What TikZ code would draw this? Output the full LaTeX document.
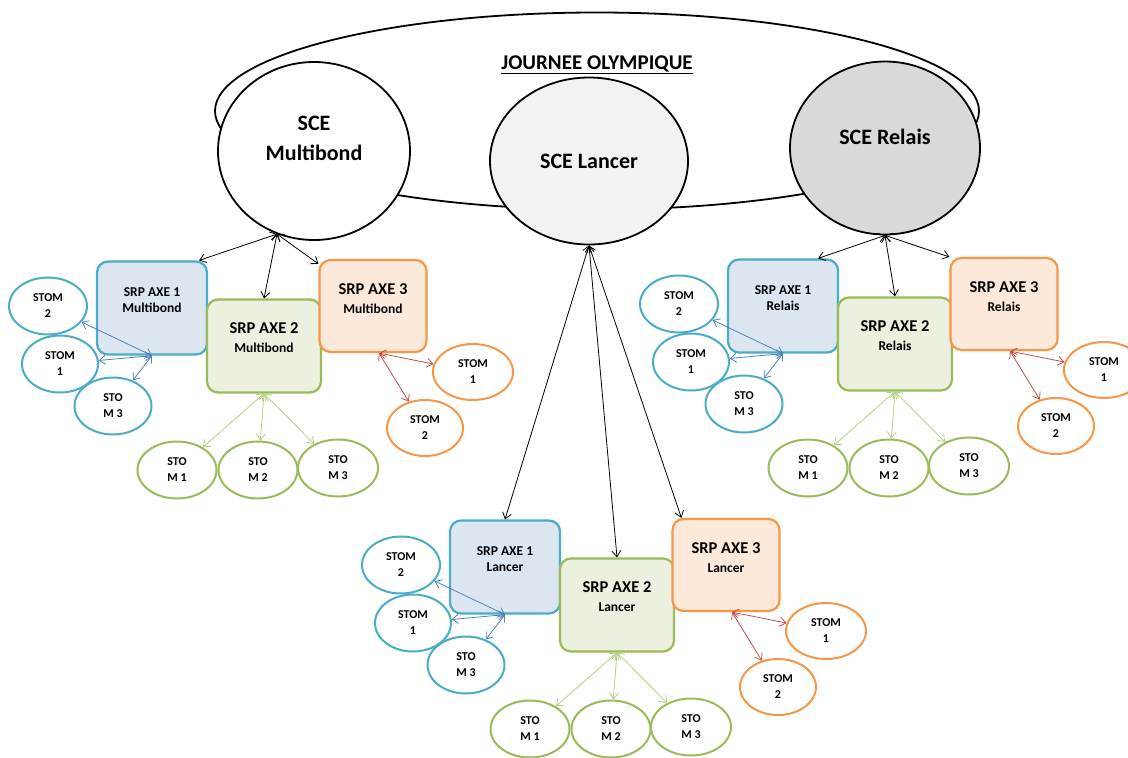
\documentclass[tikz,border=0pt]{standalone}
\usepackage{fontspec}
\setmainfont{Carlito}
\usetikzlibrary{shapes.geometric,arrows.meta}
\definecolor{bleuBord}{HTML}{4BACC6}
\definecolor{bleuFond}{HTML}{DCE6F1}
\definecolor{vertBord}{HTML}{9BBB59}
\definecolor{vertFond}{HTML}{EBF1DE}
\definecolor{orangeBord}{HTML}{F79646}
\definecolor{orangeFond}{HTML}{FDE9D9}
\definecolor{flecheBleu}{HTML}{4F81BD}
\definecolor{flecheVert}{HTML}{B3CF85}
\definecolor{flecheRouge}{HTML}{C0504D}
\begin{document}
\begin{tikzpicture}[
            x=1pt, y=-1pt,
            every node/.style={align=center, font=\bfseries},
            scetexte/.style={font=\bfseries\fontsize{22}{30}\selectfont},
            sce/.style={ellipse, draw, line width=1.8pt, inner sep=0pt, scetexte},
            srp/.style={draw, rounded corners=11pt, line width=2.2pt, inner sep=0pt},
            srpbleu/.style={srp, draw=bleuBord, fill=bleuFond},
            srpvert/.style={srp, draw=vertBord, fill=vertFond},
            srporange/.style={srp, draw=orangeBord, fill=orangeFond},
            stom/.style={ellipse, draw, line width=2pt, fill=white, inner sep=0pt,
                minimum width=78pt, minimum height=57pt,
                font=\bfseries\fontsize{12}{16}\selectfont},
            lien/.style={<->, >={Straight Barb[length=6pt,width=9pt]}, line width=0.8pt},
            petit/.style={font=\bfseries\fontsize{13.5}{16}\selectfont},
            grand/.style={font=\bfseries\fontsize{16.5}{19}\selectfont}
            ]
            \useasboundingbox (0,0) rectangle (1128,758);
            % journee et les trois SCE
            \node[ellipse, draw, line width=1.8pt, minimum width=764pt, minimum height=197pt] (jo) at (597,111) {};
            \node[font=\bfseries\fontsize{21}{25}\selectfont] (titre) at (597,65) {\underline{JOURNEE OLYMPIQUE}};
            \node[sce, fill=white, minimum width=192pt, minimum height=178pt,
                label={[scetexte, yshift=13pt]center:{SCE\\Multibond}}] (mb) at (314,151) {};
            \node[sce, fill=black!5, minimum width=198pt, minimum height=167pt] (ln) at (589,161) {SCE Lancer};
            \node[sce, fill=black!15, minimum width=190pt, minimum height=173pt,
                label={[scetexte, yshift=11pt]center:{SCE Relais}}] (rl) at (885,148) {};
            % un groupe SRP par SCE
            \foreach \dx/\dy/\sp/\k in {0/0/Multibond/m, 353/259/Lancer/l, 631/-2/Relais/r}{
                \begin{scope}[shift={(\dx,\dy)}]
                    \node[srpbleu, minimum width=110pt, minimum height=93pt,
                        label={[petit, anchor=north, yshift=-24pt]90:{SRP AXE 1\\\sp}}] (a1\k) at (152,308) {};
                    \node[srpvert, minimum width=114pt, minimum height=93pt,
                        label={[grand, anchor=north, yshift=-21pt]90:{SRP AXE 2\\{\fontsize{13.5}{16}\selectfont\sp}}}] (a2\k) at (264,346) {};
                    \node[srporange, minimum width=107pt, minimum height=92pt,
                        label={[grand, anchor=north, yshift=-21pt]90:{SRP AXE 3\\{\fontsize{13.5}{16}\selectfont\sp}}}] (a3\k) at (373,306) {};
                    \node[stom, draw=bleuBord] (b2\k) at (48,306) {STOM\\2};
                    \node[stom, draw=bleuBord, minimum width=76pt] (b1\k) at (60,364) {STOM\\1};
                    \node[stom, draw=bleuBord, minimum width=77pt] (b3\k) at (113,406) {STO\\M 3};
                    \node[stom, draw=vertBord, minimum width=79pt] (g1\k) at (177,470) {STO\\M 1};
                    \node[stom, draw=vertBord, minimum width=79pt] (g2\k) at (258,470) {STO\\M 2};
                    \node[stom, draw=vertBord, minimum width=80pt] (g3\k) at (338,468) {STO\\M 3};
                    \node[stom, draw=orangeBord, minimum width=80pt, minimum height=56pt] (o1\k) at (473,372) {STOM\\1};
                    \node[stom, draw=orangeBord, minimum width=76pt, minimum height=56pt] (o2\k) at (425,428) {STOM\\2};
                    \draw[lien, flecheBleu] (a1\k.south) -- (b2\k);
                    \draw[lien, flecheBleu] (a1\k.south) -- (b1\k);
                    \draw[lien, flecheBleu] (a1\k.south) -- (b3\k);
                    \draw[lien, flecheVert] (a2\k.south) -- (g1\k);
                    \draw[lien, flecheVert] (a2\k.south) -- (g2\k);
                    \draw[lien, flecheVert] (a2\k.south) -- (g3\k);
                    \draw[lien, flecheRouge] ([xshift=6pt]a3\k.south) -- (o1\k);
                    \draw[lien, flecheRouge] ([xshift=6pt]a3\k.south) -- (o2\k);
                \end{scope}
            }
            % SCE vers SRP
            \draw[lien] (mb.-114) -- ([xshift=-9pt]a1m.north east);
            \draw[lien] (mb.-114) -- (a2m.north);
            \draw[lien] (mb.-114) -- ([yshift=-5pt]a3m.north west);
            \draw[lien] (ln.south) -- (a1l.north);
            \draw[lien] (ln.south) -- (a2l.north);
            \draw[lien] (ln.south) -- ([xshift=10pt]a3l.north west);
            \draw[lien] (rl.south) -- ([xshift=-21pt]a1r.north east);
            \draw[lien] (rl.south) -- (a2r.north);
            \draw[lien] (rl.south) -- (a3r.north west);
        \end{tikzpicture}
\end{document}
